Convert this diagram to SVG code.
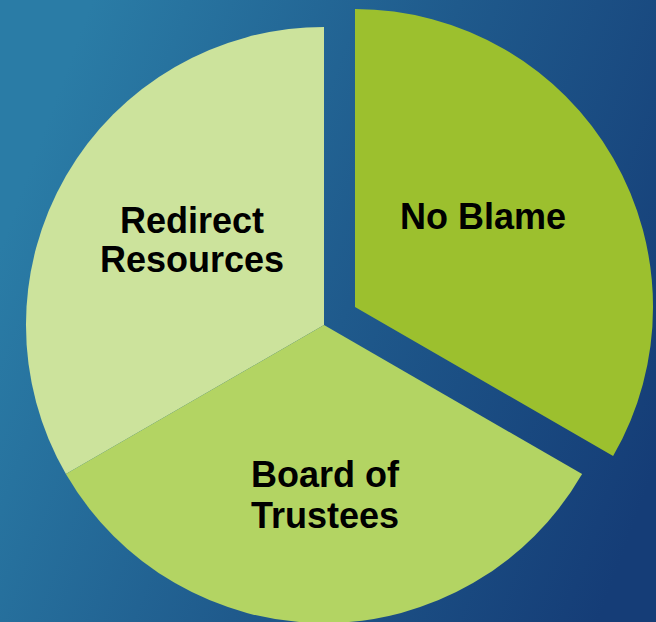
<svg xmlns="http://www.w3.org/2000/svg" width="656" height="622" viewBox="0 0 656 622">
  <defs>
    <linearGradient id="bg" x1="0" y1="0.4" x2="1" y2="0.75">
      <stop offset="0" stop-color="#2a7ca6"/>
      <stop offset="0.5" stop-color="#1f5a8c"/>
      <stop offset="1" stop-color="#153d77"/>
    </linearGradient>
    <style>
      .lbl { font-family: "Liberation Sans", Arial, sans-serif; font-weight: bold; font-size: 36px; fill: #000; text-anchor: middle; }
    </style>
  </defs>
  <rect x="0" y="0" width="656" height="622" fill="url(#bg)"/>
  <g id="redirect-resources">
    <path d="M324,325 L65.9,474 A298,298 0 0 1 324,27 Z" fill="#cce39c"/>
    <text class="lbl" x="192" y="233">Redirect</text>
    <text class="lbl" x="192" y="272">Resources</text>
  </g>
  <g id="board-of-trustees">
    <path d="M324,325 L582.1,474 A298,298 0 0 1 65.9,474 Z" fill="#b3d463"/>
    <text class="lbl" x="325" y="487">Board of</text>
    <text class="lbl" x="325" y="528">Trustees</text>
  </g>
  <g id="no-blame">
    <path d="M355,307 L355,9 A298,298 0 0 1 613.1,456 Z" fill="#9cc02e"/>
    <text class="lbl" x="483" y="229">No Blame</text>
  </g>
  <g id="connectors"></g>
</svg>
